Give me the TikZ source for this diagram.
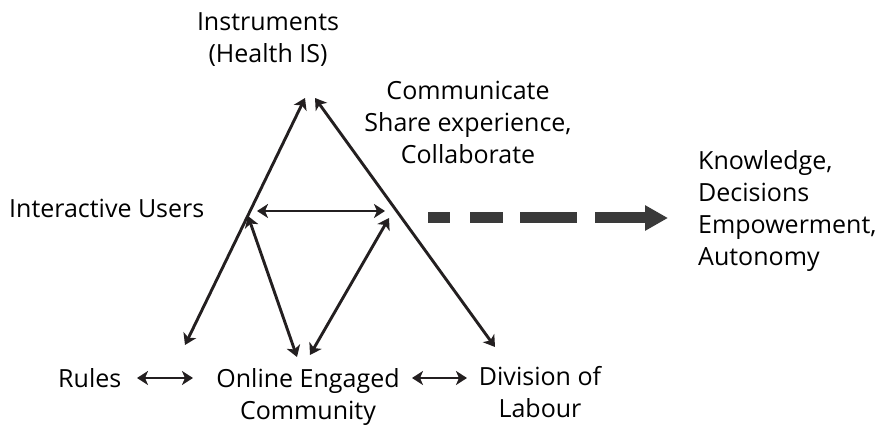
\documentclass[tikz,border=0pt]{standalone}
\usepackage{fontspec}
\setmainfont{Open Sans}
\usetikzlibrary{arrows.meta}
\definecolor{ink}{HTML}{231F20}
\definecolor{dashgray}{HTML}{3A3A3A}
\begin{document}
\begin{tikzpicture}[x=1pt,y=-1pt,
  lbl/.style={inner sep=0pt,font=\fontsize{25}{32}\selectfont,text=black},
  conn/.style={draw=ink,line width=2.9pt,{Stealth[length=11pt,width=14pt,inset=3pt]}-{Stealth[length=11pt,width=14pt,inset=3pt]}},
  bigdash/.style={draw=dashgray,line width=11pt,dash pattern=on 22pt off 20pt on 33pt off 17pt on 57pt off 18pt on 300pt,-{Triangle[length=23pt,width=24pt]}}]
\useasboundingbox (0,0) rectangle (884,427);
% labels (anchor base = baseline of last line)
\node[lbl,align=center,anchor=base] (instr) at (268,63) {Instruments\\(Health IS)};
\node[lbl,align=center,anchor=base] (comm) at (468,164) {Communicate\\Share experience,\\Collaborate};
\node[lbl,anchor=base west] (users) at (9,218) {Interactive Users};
\node[lbl,align=left,anchor=base west] (know) at (698,266) {Knowledge,\\Decisions\\Empowerment,\\Autonomy};
\node[lbl,anchor=base west] (rules) at (58,388) {Rules};
\node[lbl,align=center,anchor=base] (online) at (308,420) {Online Engaged\\Community};
\node[lbl,align=center,anchor=base] (division) at (540,418) {Division of\\Labour};
% end points
\coordinate (lA) at (185,345); \coordinate (lB) at (305,98);
\coordinate (rA) at (315,98);  \coordinate (rB) at (495,347);
\coordinate (hA) at (257,211); \coordinate (hB) at (385,211);
\coordinate (dA) at (248,216); \coordinate (dB) at (297,357);
\coordinate (eA) at (389,218); \coordinate (eB) at (310,355);
\coordinate (s1A) at (137,378); \coordinate (s1B) at (193,378);
\coordinate (s2A) at (412,378); \coordinate (s2B) at (467,378);
\coordinate (dashstart) at (428,218); \coordinate (dashend) at (668,218);
% connectors
\draw[conn] (lA) -- (lB);
\draw[conn] (rA) -- (rB);
\draw[conn] (hA) -- (hB);
\draw[conn] (dA) -- (dB);
\draw[conn] (eA) -- (eB);
\draw[conn] (s1A) -- (s1B);
\draw[conn] (s2A) -- (s2B);
\draw[bigdash] (dashstart) -- (dashend);
\end{tikzpicture}
\end{document}
